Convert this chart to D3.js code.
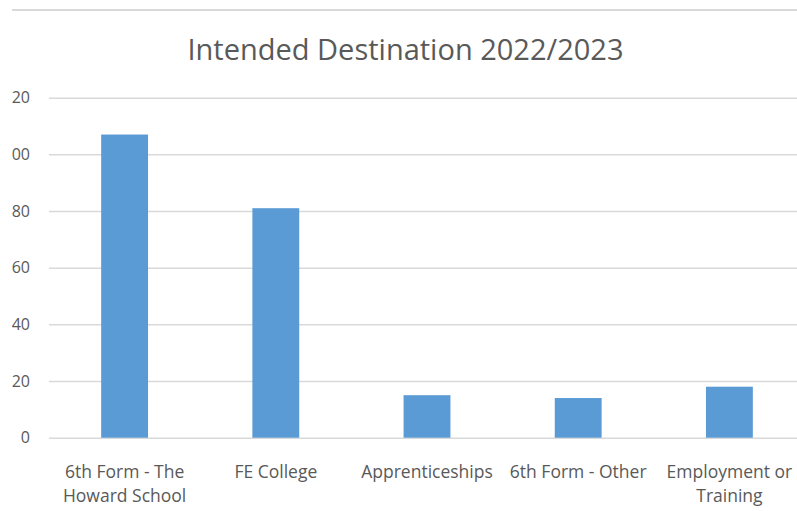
<!DOCTYPE html>
<html>
<head>
<meta charset="utf-8">
<script src="https://cdn.jsdelivr.net/npm/d3@7"></script>
<style>
  body { margin: 0; background: #fff; }
  svg { display: block; }
</style>
</head>
<body>
<svg id="drawing_region"></svg>
<script>
// values
const categories = ['6th Form - The Howard School', 'FE College', 'Apprenticeships', '6th Form - Other', 'Employment or Training'];
const values = [107, 81, 15, 14, 18];
const y_ticks = [0, 20, 40, 60, 80, 100, 120];
const title = 'Intended Destination 2022/2023';

const data = categories.map((c, i) => ({ label: c, value: values[i] }));

const config = {
    width: 797,
    height: 511,
    left: 49,
    right: 805,     // plot runs past the right edge in the reference
    top: 97.7,
    bottom: 437.7,
    crop: 12        // left edge of the picture is cut off
};

const font = '"Open Sans", "DejaVu Sans", sans-serif';
const text_color = '#595959';

const svg = d3.select('#drawing_region')
    .attr('width', config.width)
    .attr('height', config.height);

svg.append('clipPath')
    .attr('id', 'crop')
    .append('rect')
    .attr('x', config.crop)
    .attr('y', 0)
    .attr('width', config.width - config.crop)
    .attr('height', config.height);

const chart = svg.append('g')
    .attr('clip-path', 'url(#crop)');

// frame line at the top
chart.append('line')
    .attr('x1', config.crop).attr('x2', config.width)
    .attr('y1', 10).attr('y2', 10)
    .attr('stroke', '#d9d9d9')
    .attr('stroke-width', 2);

const xscale = d3.scaleBand()
    .domain(categories)
    .range([config.left, config.right])
    .paddingInner(0.69)
    .paddingOuter(0.345);

const yscale = d3.scaleLinear()
    .domain([0, 120])
    .range([config.bottom, config.top]);

// y axis: gridlines + labels, no domain line
const yaxis = d3.axisLeft(yscale)
    .tickValues(y_ticks)
    .tickSize(-(config.right - config.left))
    .tickPadding(19);

const yaxis_group = chart.append('g')
    .attr('transform', `translate(${config.left}, 0)`)
    .call(yaxis);

yaxis_group.select('.domain').remove();
yaxis_group.selectAll('.tick line')
    .attr('stroke', '#d9d9d9')
    .attr('stroke-width', 1.5);
yaxis_group.selectAll('.tick text')
    .attr('fill', text_color)
    .style('font-family', font)
    .style('font-size', '16px');

// bars
chart.selectAll('rect.bar')
    .data(data)
    .enter()
    .append('rect')
    .attr('class', 'bar')
    .attr('x', d => xscale(d.label))
    .attr('y', d => yscale(d.value))
    .attr('width', xscale.bandwidth())
    .attr('height', d => yscale(0) - yscale(d.value))
    .attr('fill', '#5b9bd5');

// x axis labels, wrapped to the category width
const xaxis = d3.axisBottom(xscale)
    .tickSize(0)
    .tickPadding(0);

const xaxis_group = chart.append('g')
    .attr('transform', `translate(0, ${config.bottom})`)
    .call(xaxis);

xaxis_group.select('.domain').remove();
xaxis_group.selectAll('.tick text')
    .attr('fill', text_color)
    .style('font-family', font)
    .style('font-size', '17.5px')
    .call(wrap, xscale.step());

function wrap(texts, width) {
    const first = 40.5, spacing = 23.5;
    texts.each(function () {
        const text = d3.select(this);
        const words = text.text().split(/\s+/);
        text.text(null);
        let line = [];
        let lineNo = 0;
        let tspan = text.append('tspan').attr('x', 0).attr('y', first);
        words.forEach(w => {
            line.push(w);
            tspan.text(line.join(' '));
            if (tspan.node().getComputedTextLength() > width - 4 && line.length > 1) {
                line.pop();
                tspan.text(line.join(' '));
                line = [w];
                lineNo++;
                tspan = text.append('tspan')
                    .attr('x', 0)
                    .attr('y', first + lineNo * spacing)
                    .text(w);
            }
        });
        text.attr('dy', null);
    });
}

// title
svg.append('text')
    .attr('x', 405.5)
    .attr('y', 60)
    .attr('text-anchor', 'middle')
    .attr('fill', text_color)
    .style('font-family', font)
    .style('font-size', '29px')
    .text(title);
</script>
</body>
</html>
